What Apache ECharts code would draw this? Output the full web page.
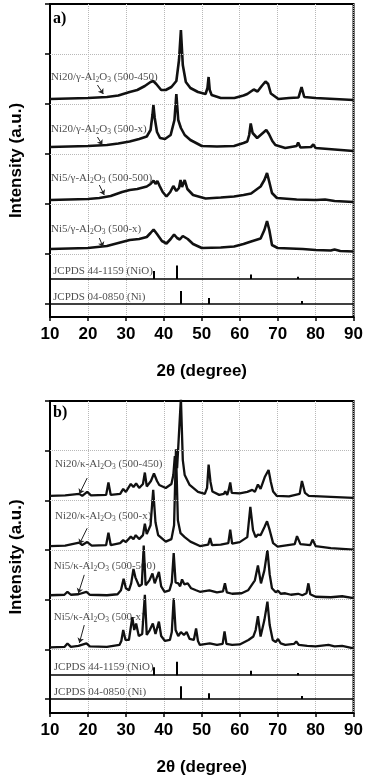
<!DOCTYPE html>
<html><head><meta charset="utf-8">
<script src="https://cdn.jsdelivr.net/npm/echarts@6/dist/echarts.min.js"></script>
<style>html,body{margin:0;padding:0;background:#fff}#c{width:366px;height:778px}</style>
</head><body><div id="c"></div>
<script>
// ---------- DATA (2θ in degrees, intensity in a.u. above each trace's own baseline) ----------
const xTicks = [10, 20, 30, 40, 50, 60, 70, 80, 90];
const yTicks = [0, 1, 2, 3, 4, 5, 6];

// Panel a) : Ni/γ-Al2O3
const labelsA = ['Ni20/γ-Al2O3 (500-450)', 'Ni20/γ-Al2O3 (500-x)', 'Ni5/γ-Al2O3 (500-500)', 'Ni5/γ-Al2O3 (500-x)'];
const offsetsA = [4.10, 3.14, 2.08, 1.10];
const a1 = [[10,0],[15,0.01],[20,0.02],[25,0.04],[28,0.07],[31,0.14],[33,0.18],[35,0.26],[36.5,0.34],[37.2,0.36],[38,0.30],[39.3,0.18],[40.5,0.18],[42,0.24],[43.3,0.36],[44.0,0.78],[44.5,1.38],[45.0,0.68],[45.8,0.34],[47,0.22],[49,0.14],[51,0.10],[51.5,0.22],[51.8,0.44],[52.1,0.18],[52.6,0.08],[55,0.02],[58.6,0.02],[61,0.07],[62,0.10],[63.7,0.19],[64.7,0.15],[65.8,0.26],[66.8,0.35],[67.5,0.30],[68.2,0.11],[70.2,0],[73,0.02],[75.5,0.03],[76.3,0.24],[77,0.04],[80,0.02],[85,0],[90,-0.02]];
const a2 = [[10,0],[15,0.01],[20,0.02],[25,0.04],[28,0.07],[31,0.11],[33.5,0.16],[35.5,0.21],[36.5,0.34],[37.0,0.64],[37.25,0.84],[37.6,0.58],[38.2,0.30],[39,0.18],[40.3,0.16],[41.8,0.24],[42.8,0.54],[43.3,1.06],[43.8,0.54],[44.5,0.38],[45.5,0.24],[47,0.14],[50,0.02],[54,0.01],[58.5,0.02],[61,0.08],[62,0.11],[62.5,0.24],[62.9,0.47],[63.4,0.28],[64.6,0.18],[65.8,0.26],[67,0.34],[67.7,0.26],[68.6,0.12],[69.4,0.04],[72,-0.02],[75,0.02],[75.4,0.09],[76,-0.01],[78.8,0],[79.4,0.05],[80,-0.02],[85,-0.05],[90,-0.08]];
const a3 = [[10,0],[15,0.01],[20,0.02],[23,0.04],[26,0.08],[29,0.16],[31,0.20],[33,0.22],[35.5,0.27],[36.5,0.32],[37.3,0.39],[37.8,0.32],[38.3,0.38],[38.9,0.28],[39.7,0.16],[40.7,0.07],[41.7,0.16],[42.5,0.28],[43.3,0.18],[44.0,0.24],[44.4,0.40],[44.8,0.26],[45.5,0.40],[46.2,0.22],[47.7,0.10],[51,0.03],[55,0.05],[58.5,0.07],[61,0.10],[63,0.13],[65.5,0.27],[66.5,0.40],[67.2,0.54],[67.8,0.36],[68.5,0.14],[69.8,0.04],[75,0.01],[80,0],[82.5,0.01],[85,-0.02],[90,-0.04]];
const a4 = [[10,0],[15,0.01],[20,0.02],[25,0.06],[28,0.12],[31,0.18],[33.5,0.20],[35.5,0.24],[36.5,0.32],[37.3,0.39],[38.2,0.30],[39.5,0.16],[40.7,0.11],[41.8,0.20],[42.7,0.29],[43.5,0.22],[44.2,0.19],[45.0,0.26],[45.5,0.29],[46.3,0.20],[47.7,0.10],[50,0.02],[55,0.03],[58.5,0.05],[61,0.10],[63,0.15],[65.5,0.21],[66.5,0.38],[67.2,0.56],[67.8,0.38],[68.5,0.08],[70,0.02],[76.6,0],[80,-0.02],[84,-0.03],[85,-0.01],[86.5,-0.04],[90,-0.05]];

// Panel b) : Ni/κ-Al2O3
const labelsB = ['Ni20/κ-Al2O3 (500-450)', 'Ni20/κ-Al2O3 (500-x)', 'Ni5/κ-Al2O3 (500-500)', 'Ni5/κ-Al2O3 (500-x)'];
const offsetsB = [4.09, 3.08, 2.09, 1.04];
const b1 = [[10,0],[14,0.01],[17.7,0.04],[18.5,0],[19.8,0.08],[20.8,0.01],[24.8,0.02],[25.4,0.27],[26,0.02],[28.5,0.04],[29.3,0.14],[30,0.08],[31.3,0.24],[32,0.18],[32.7,0.25],[33.5,0.16],[34.5,0.24],[35.0,0.47],[35.5,0.19],[36.6,0.30],[37.4,0.45],[38.2,0.30],[38.8,0.22],[40.5,0.16],[42.0,0.24],[42.5,0.42],[42.9,0.80],[43.5,0.56],[44.0,0.52],[44.5,1.97],[45.0,0.72],[45.5,0.42],[46.8,0.22],[49,0.08],[50.8,0.04],[51.4,0.16],[51.8,0.63],[52.3,0.28],[52.8,0.09],[54.6,0.02],[55.8,0.04],[56.2,0.09],[56.7,0.02],[57.1,0.12],[57.5,0.27],[57.9,0.06],[60,0.05],[62,0.08],[63.3,0.12],[64.0,0.08],[64.8,0.23],[65.5,0.14],[66.6,0.38],[67.1,0.34],[67.6,0.52],[68.2,0.28],[68.8,0.09],[69.8,0],[73,-0.01],[75.8,0.04],[76.4,0.30],[77.2,0.06],[78.2,0],[84,-0.02],[90,-0.04]];
const b2 = [[10,0],[14,0.01],[17.7,0.07],[18.5,0.02],[19.8,0.08],[21,0.01],[24.8,0.02],[25.4,0.27],[26,0.02],[28.5,0.06],[29.3,0.12],[30,0.08],[31.3,0.19],[32,0.14],[32.6,0.22],[33.5,0.14],[34.5,0.22],[35.0,0.45],[35.5,0.24],[36.5,0.42],[37.2,1.13],[37.8,0.48],[38.5,0.22],[40.5,0.09],[42.0,0.14],[42.7,0.42],[43.2,1.95],[43.7,0.52],[44.4,0.26],[45.5,0.18],[47,0.09],[49.5,0],[51.7,0.03],[52.2,0.16],[52.7,0.02],[55,0.03],[57.0,0.06],[57.5,0.33],[58.0,0.05],[60,0.08],[62.0,0.18],[62.8,0.79],[63.5,0.32],[64.2,0.18],[64.8,0.23],[65.5,0.22],[66.5,0.38],[67.2,0.50],[67.9,0.32],[68.8,0.06],[70,-0.01],[74.5,0.04],[75.1,0.20],[76,0.04],[78.6,0.02],[79.2,0.13],[80,0],[84,-0.04],[90,-0.07]];
const b3 = [[10,0],[13.8,0.01],[14.6,0.07],[15.5,0.01],[17.5,0.02],[19.6,0.07],[20.5,0.01],[25,0],[27.8,0.02],[28.7,0.10],[29.4,0.33],[30.0,0.14],[30.8,0.10],[31.4,0.24],[32.0,0.53],[32.5,0.36],[32.9,0.40],[33.5,0.18],[34.2,0.22],[34.7,1.00],[35.2,0.20],[36.2,0.30],[37.0,0.44],[37.6,0.24],[38.7,0.47],[39.3,0.18],[40.2,0.07],[41.5,0.10],[42.1,0.26],[42.6,0.85],[43.1,0.26],[43.8,0.24],[44.3,0.18],[44.8,0.32],[45.4,0.22],[46.3,0.24],[47.2,0.14],[48.5,0.10],[49.5,0.07],[52,0.10],[54,0.06],[55.6,0.08],[56.1,0.24],[56.6,0.06],[58,0.03],[60.5,0.04],[62.2,0.10],[64.0,0.30],[64.8,0.60],[65.6,0.24],[66.5,0.50],[67.3,0.91],[67.9,0.42],[68.5,0.14],[69.5,0.06],[70.1,0.09],[70.8,0.03],[72,0.04],[73.5,0.01],[75.4,0.03],[76.5,0],[77.6,0.04],[78.1,0.24],[78.6,0.02],[80,-0.03],[84,-0.04],[87,-0.02],[90,-0.06]];
const b4 = [[10,0],[13.8,0.01],[14.6,0.08],[15.5,0.01],[17.5,0.03],[19.6,0.08],[20.5,0.02],[25,0.01],[28.3,0.05],[28.8,0.13],[29.3,0.35],[29.9,0.15],[30.8,0.15],[31.7,0.61],[32.2,0.35],[32.7,0.48],[33.4,0.23],[34.3,0.27],[35.0,1.06],[35.5,0.25],[36.3,0.35],[37.1,0.48],[37.8,0.27],[38.7,0.52],[39.3,0.23],[40.3,0.13],[41.6,0.15],[42.1,0.31],[42.6,0.99],[43.1,0.35],[43.8,0.23],[44.5,0.31],[45.3,0.25],[46.0,0.31],[46.8,0.17],[47.9,0.15],[48.5,0.38],[49.0,0.13],[49.5,0.05],[52.1,0.08],[54,0.05],[55.5,0.07],[56.0,0.32],[56.5,0.07],[58,0.05],[60,0.06],[62.3,0.15],[63.6,0.22],[64.2,0.35],[64.8,0.63],[65.5,0.22],[66.5,0.55],[67.3,0.92],[67.9,0.45],[68.7,0.15],[69.5,0.11],[70.1,0.17],[70.8,0.08],[72,0.05],[74.3,0.07],[74.9,0.12],[75.6,0.05],[77.8,0.03],[80,0.02],[83.4,0.05],[85,0.02],[87,0.03],[90,-0.02]];

// Reference patterns (stick positions 2θ, relative heights)
const nioLabel = 'JCPDS 44-1159 (NiO)';
const niLabel = 'JCPDS 04-0850 (Ni)';
const nioPeaks = [[37.3, 0.16], [43.3, 0.27], [62.9, 0.09], [75.4, 0.045]];
const niPeaks = [[44.5, 0.26], [51.8, 0.12], [76.4, 0.06]];
const refBaseA = [0.5, 0];
const refBaseB = [0.48, 0];

// ---------- LAYOUT / ANNOTATION PLACEMENT (data coordinates) ----------
const labelPosA = [[10.26, 4.54], [10.26, 3.50], [10.26, 2.52], [10.26, 1.50]];
const labelPosB = [[11.3, 4.73], [11.3, 3.68], [11.0, 2.68], [11.0, 1.65]];
const refLabelPosA = [[10.8, 0.66], [10.8, 0.14]];
const refLabelPosB = [[11.0, 0.64], [11.0, 0.14]];
const arrowsA = [[[22.5, 4.38], [24.06, 4.20]], [[22.5, 3.34], [23.8, 3.18]], [[23.0, 2.38], [24.3, 2.18]], [[23.0, 1.32], [24.0, 1.14]]];
const arrowsB = [[[19.8, 4.45], [17.74, 4.13]], [[19.8, 3.44], [17.74, 3.12]], [[19.03, 2.50], [17.48, 2.13]], [[19.03, 1.49], [17.74, 1.13]]];

const SANS = 'Liberation Sans, Arial, sans-serif';
const SERIF = 'Liberation Serif, Times New Roman, serif';

function richLabel(s) {
  const i = s.indexOf('Al2O3');
  if (i < 0) return '{n|' + s + '}';
  return '{n|' + s.slice(0, i) + 'Al}{s|2}{n|O}{s|3}{n|' + s.slice(i + 5) + '}';
}
const rich = {
  n: { fontFamily: SERIF, fontSize: 11, color: '#222', lineHeight: 14 },
  s: { fontFamily: SERIF, fontSize: 7.5, color: '#222', lineHeight: 8, verticalAlign: 'bottom' }
};

function xAxis(gi) {
  return {
    type: 'value', gridIndex: gi, min: 10, max: 90, interval: 10,
    axisLine: { show: true, onZero: false, lineStyle: { color: '#000', width: 2 } },
    axisTick: { show: true, length: 4, lineStyle: { color: '#000', width: 1.5 } },
    axisLabel: { fontFamily: SANS, fontWeight: 'bold', fontSize: 17, color: '#000', margin: 9, showMinLabel: true, showMaxLabel: true },
    splitLine: { show: true, lineStyle: { type: 'dotted', color: '#b8b8b8', width: 1 } },
    name: '2θ (degree)', nameLocation: 'middle', nameGap: 46,
    nameTextStyle: { fontFamily: SANS, fontWeight: 'bold', fontSize: 17, color: '#000' }
  };
}
function yAxis(gi, min) {
  return {
    type: 'value', gridIndex: gi, min: min, max: 6,
    axisLine: { show: true, onZero: false, lineStyle: { color: '#000', width: 2 } },
    axisTick: { show: true, length: 5, customValues: yTicks, lineStyle: { color: '#000', width: 1.5 } },
    axisLabel: { show: false },
    splitLine: { show: false },
    name: 'Intensity (a.u.)', nameLocation: 'middle', nameRotate: 90, nameGap: 25,
    nameTextStyle: { fontFamily: SANS, fontWeight: 'bold', fontSize: 17, color: '#000' }
  };
}

const series = [];
function addPanel(gi, pats, offs, labels, labelPos, arrows, refBase, refLabelPos, lw) {
  pats.forEach((p, k) => {
    const s = {
      type: 'line', xAxisIndex: gi, yAxisIndex: gi, symbol: 'none', silent: true, animation: false,
      data: p.map(d => [d[0], d[1] + offs[k]]),
      lineStyle: { color: '#111', width: lw }, z: 3
    };
    if (k === 0) {
      s.markLine = {
        silent: true, symbol: 'none', label: { show: false }, animation: false,
        data: [1, 2, 3, 4, 5].map(v => ({ yAxis: v, lineStyle: { type: 'dotted', color: '#b8b8b8', width: 1 } }))
          .concat(refBase.map(v => ({ yAxis: v, lineStyle: { type: 'solid', color: '#000', width: 1.6 } })))
      };
    }
    series.push(s);
  });
  [nioPeaks, niPeaks].forEach((pk, r) => {
    series.push({
      type: 'lines', coordinateSystem: 'cartesian2d', xAxisIndex: gi, yAxisIndex: gi, silent: true, animation: false,
      data: pk.map(d => ({ coords: [[d[0], refBase[r]], [d[0], refBase[r] + d[1]]] })),
      lineStyle: { color: '#000', width: 2, opacity: 1 }, symbol: 'none', z: 4
    });
  });
  series.push({
    type: 'lines', coordinateSystem: 'cartesian2d', xAxisIndex: gi, yAxisIndex: gi, silent: true, animation: false,
    data: arrows.map(a => ({ coords: a })),
    lineStyle: { color: '#222', width: 1, opacity: 1 }, symbol: ['none', 'arrow'], symbolSize: 5, z: 5
  });
  const lab = labels.map((t, k) => ({ value: labelPos[k], label: { formatter: richLabel(t) } }))
    .concat([nioLabel, niLabel].map((t, k) => ({ value: refLabelPos[k], label: { formatter: richLabel(t) } })));
  series.push({
    type: 'scatter', xAxisIndex: gi, yAxisIndex: gi, symbolSize: 0, silent: true, animation: false, z: 6,
    data: lab,
    label: { show: true, position: 'right', distance: 0, rich: rich }
  });
}
addPanel(0, [a1, a2, a3, a4], offsetsA, labelsA, labelPosA, arrowsA, refBaseA, refLabelPosA, 2.6);
addPanel(1, [b1, b2, b3, b4], offsetsB, labelsB, labelPosB, arrowsB, refBaseB, refLabelPosB, 2.3);

const chart = echarts.init(document.getElementById('c'), null, { renderer: 'canvas' });
chart.setOption({
  animation: false,
  backgroundColor: '#fff',
  grid: [
    { left: 47, right: 12, top: 4, height: 313, show: true, borderColor: '#000', borderWidth: 2, backgroundColor: 'transparent' },
    { left: 47, right: 9, top: 401, height: 312, show: true, borderColor: '#000', borderWidth: 2, backgroundColor: 'transparent' }
  ],
  xAxis: [xAxis(0), xAxis(1)],
  yAxis: [yAxis(0, -0.26), yAxis(1, -0.28)],
  graphic: [
    { type: 'text', left: 53, top: 11, style: { text: 'a)', fontFamily: SERIF, fontWeight: 'bold', fontSize: 16, fill: '#000' } },
    { type: 'text', left: 53, top: 405, style: { text: 'b)', fontFamily: SERIF, fontWeight: 'bold', fontSize: 16, fill: '#000' } }
  ],
  series: series
});
</script></body></html>
